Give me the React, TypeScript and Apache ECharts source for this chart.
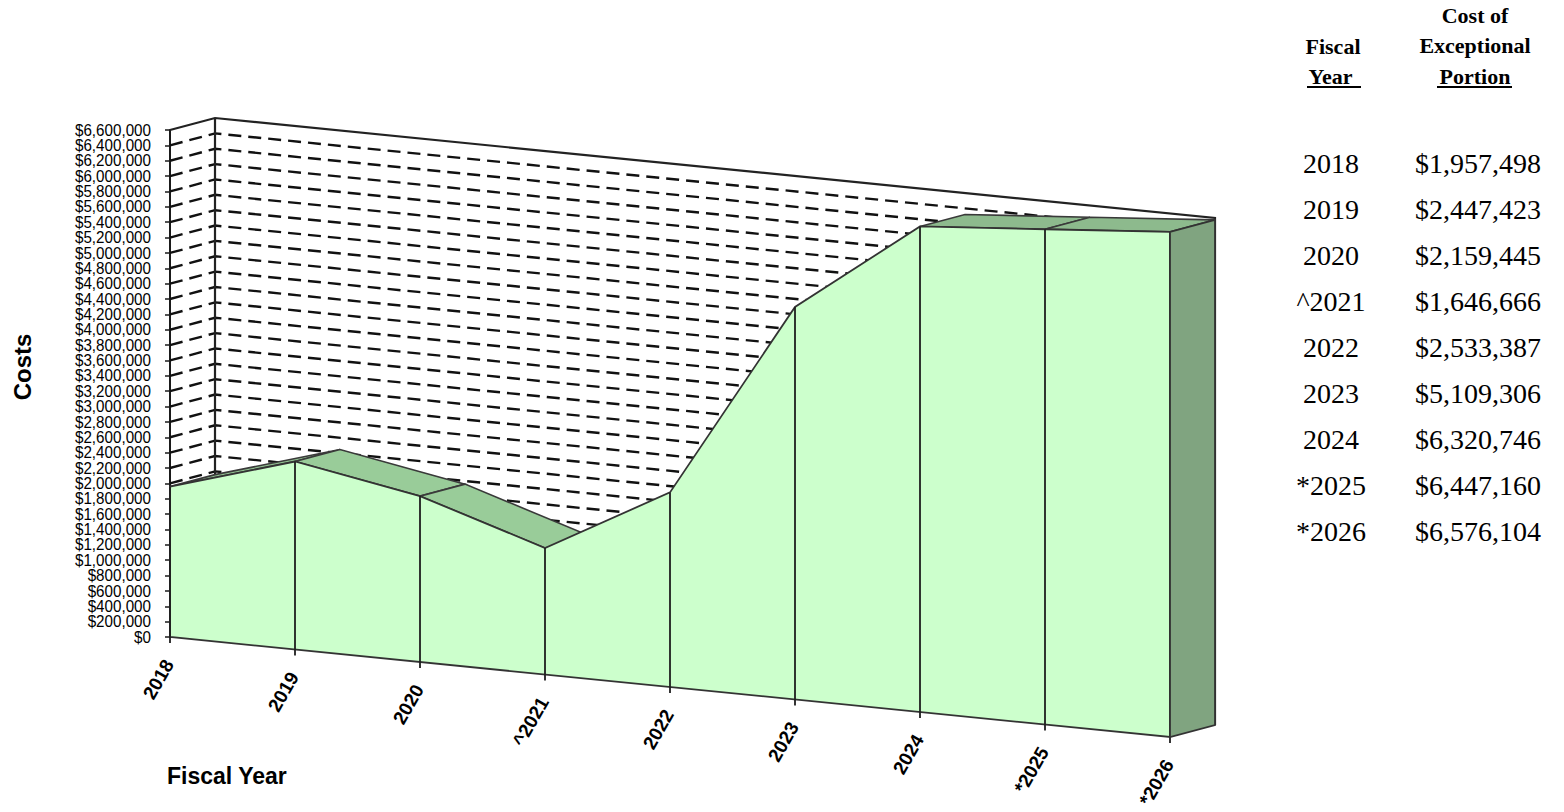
import React, { useEffect, useRef } from "react";
import * as echarts from "echarts";

const categories = ["2018", "2019", "2020", "^2021", "2022", "2023", "2024", "*2025", "*2026"];
const costs = [1957498, 2447423, 2159445, 1646666, 2533387, 5109306, 6320746, 6447160, 6576104];
const yMin = 0;
const yMax = 6600000;
const yStep = 200000;
const tableHeaderLeft = ["Fiscal", "Year "];
const tableHeaderRight = ["Cost of", "Exceptional", "Portion"];

const SANS = "'Liberation Sans', Arial, sans-serif";
const SERIF = "'Liberation Serif', 'Times New Roman', serif";
const SLOPE = 0.1;
const DEPTH = [45, -12];

const money = (v: number) => (v === 0 ? "$0" : "$" + v.toLocaleString("en-US"));

function renderItem(params: any, api: any) {
  const origin = api.coord([0, 0]);
  const pt = (i: number, v: number) => {
    const c = api.coord([i, v]);
    return [c[0], c[1] + (c[0] - origin[0]) * SLOPE];
  };
  const back = (p: number[]) => [p[0] + DEPTH[0], p[1] + DEPTH[1]];
  const n = categories.length - 1;
  const children: any[] = [];

  // gridlines on walls
  for (let v = yMin + yStep; v < yMax; v += yStep) {
    const a = pt(0, v);
    const b = pt(n, v);
    children.push({
      type: "polyline",
      shape: { points: [a, back(a), back(b)] },
      style: { stroke: "#111", lineWidth: 2.4, lineDash: [13, 7], fill: null },
    });
  }
  // wall edges
  const tl = pt(0, yMax);
  const tr = pt(n, yMax);
  children.push({
    type: "polyline",
    shape: { points: [tl, back(tl), back(tr), back(pt(n, yMin))] },
    style: { stroke: "#222", lineWidth: 2.2, fill: null },
  });
  children.push({
    type: "line",
    shape: { x1: back(tl)[0], y1: back(tl)[1], x2: back(pt(0, yMin))[0], y2: back(pt(0, yMin))[1] },
    style: { stroke: "#222", lineWidth: 2.2 },
  });

  // top surfaces
  for (let i = 0; i < n; i++) {
    const a = pt(i, costs[i]);
    const b = pt(i + 1, costs[i + 1]);
    const s = (b[1] - a[1]) / (b[0] - a[0]);
    const lineY = a[1] + s * DEPTH[0];
    if (a[1] + DEPTH[1] < lineY) {
      children.push({
        type: "polygon",
        shape: { points: [a, b, back(b), back(a)] },
        style: { fill: s > 0.15 ? "#99CC99" : "#8DBA8D", stroke: "#3a3a3a", lineWidth: 1.6 },
      });
    }
  }

  // front face
  const front: number[][] = costs.map((v, i) => pt(i, v));
  front.push(pt(n, 0));
  front.push(pt(0, 0));
  children.push({
    type: "polygon",
    shape: { points: front },
    style: { fill: "#CCFFCC", stroke: "#333", lineWidth: 1.8 },
  });

  // category dividers + ticks
  costs.forEach((v, i) => {
    const t = pt(i, v);
    const b = pt(i, 0);
    children.push({
      type: "line",
      shape: { x1: t[0], y1: t[1], x2: b[0], y2: b[1] + 6 },
      style: { stroke: "#1f1f1f", lineWidth: 1.8 },
    });
  });

  // right side face
  const rt = pt(n, costs[n]);
  const rb = pt(n, 0);
  children.push({
    type: "polygon",
    shape: { points: [rt, rb, back(rb), back(rt)] },
    style: { fill: "#80A480", stroke: "#333", lineWidth: 1.8 },
  });

  // y-axis value labels
  for (let v = yMin; v <= yMax; v += yStep) {
    const p = pt(0, v);
    children.push({
      type: "text",
      x: p[0] - 19,
      y: p[1],
      scaleX: 0.95,
      style: {
        text: money(v),
        fill: "#000",
        font: `16px ${SANS}`,
        lineHeight: 15,
        align: "right",
        textAlign: "right",
        verticalAlign: "middle",
        textVerticalAlign: "middle",
      },
    });
  }

  // category labels
  categories.forEach((c, i) => {
    const b = pt(i, 0);
    children.push({
      type: "text",
      x: b[0] - 1,
      y: b[1] + 24,
      rotation: (60 * Math.PI) / 180,
      style: {
        text: c,
        fill: "#000",
        font: `bold 19px ${SANS}`,
        align: "right",
        textAlign: "right",
        verticalAlign: "middle",
        textVerticalAlign: "middle",
      },
    });
  });

  return { type: "group", children };
}

export default function App() {
  const ref = useRef<HTMLDivElement>(null);
  useEffect(() => {
    if (!ref.current) return;
    const chart = echarts.init(ref.current, null, { renderer: "svg" });
    const graphic: any[] = [];
    const txt = (text: string, x: number, y: number, font: string, rot = 0) => ({
      type: "text",
      x,
      y,
      rotation: rot,
      style: {
        text,
        fill: "#000",
        font,
        align: "center",
        textAlign: "center",
        verticalAlign: "middle",
        textVerticalAlign: "middle",
      },
    });
    graphic.push(txt("Costs", 22, 367, `bold 24px ${SANS}`, Math.PI / 2));
    graphic.push({
      type: "text",
      x: 167,
      y: 776,
      style: {
        text: "Fiscal Year",
        fill: "#000",
        font: `bold 23px ${SANS}`,
        align: "left",
        textAlign: "left",
        verticalAlign: "middle",
        textVerticalAlign: "middle",
      },
    });
    // table header
    tableHeaderLeft.forEach((t, i) => graphic.push(txt(t, 1333, 46 + i * 30, `bold 22px ${SERIF}`)));
    tableHeaderRight.forEach((t, i) => graphic.push(txt(t, 1475, 15 + i * 30.5, `bold 22px ${SERIF}`)));
    graphic.push({ type: "line", shape: { x1: 1307, y1: 87, x2: 1361, y2: 87 }, style: { stroke: "#000", lineWidth: 2 } });
    graphic.push({ type: "line", shape: { x1: 1437, y1: 87, x2: 1512, y2: 87 }, style: { stroke: "#000", lineWidth: 2 } });
    // table rows
    categories.forEach((c, i) => {
      graphic.push(txt(c, 1331, 163 + i * 46, `28px ${SERIF}`));
      graphic.push(txt(money(costs[i]), 1478, 163 + i * 46, `28px ${SERIF}`));
    });

    chart.setOption({
      animation: false,
      backgroundColor: "#fff",
      grid: { left: 170, top: 130, right: 394, bottom: 175, containLabel: false },
      xAxis: { type: "value", min: 0, max: categories.length - 1, show: false },
      yAxis: {
        type: "value",
        min: yMin,
        max: yMax,
        interval: yStep,
        axisLine: { show: true, lineStyle: { color: "#1a1a1a", width: 2 } },
        axisTick: { show: true, length: 5, lineStyle: { color: "#1a1a1a", width: 1.5 } },
        axisLabel: { show: false },
        splitLine: { show: false },
      },
      series: [
        {
          type: "custom",
          coordinateSystem: "cartesian2d",
          renderItem,
          data: [[0, 0]],
          clip: false,
          z: 3,
        },
      ],
      graphic,
    });
    return () => chart.dispose();
  }, []);
  return <div ref={ref} style={{ position: "fixed", left: 0, top: 0, width: 1564, height: 812 }} />;
}
